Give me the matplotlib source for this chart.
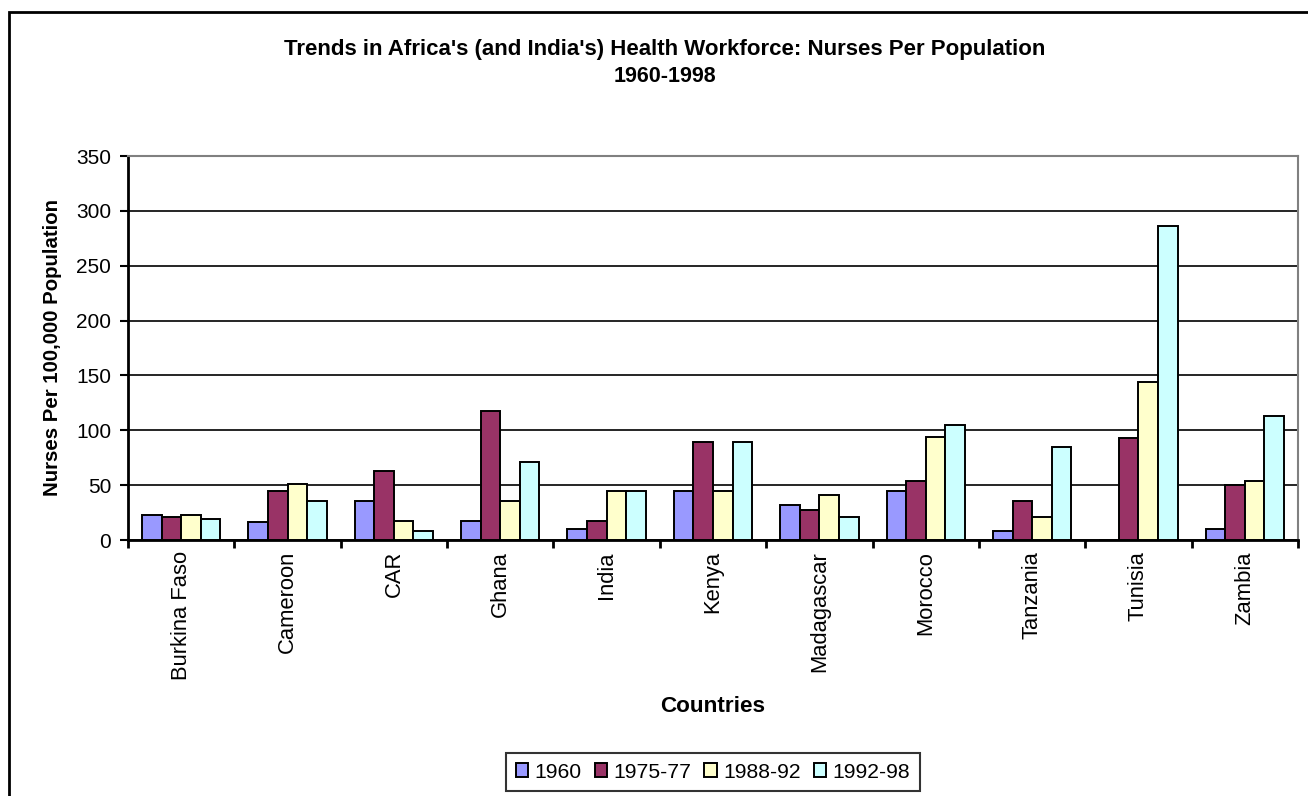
import matplotlib
matplotlib.use("Agg")
import matplotlib.pyplot as plt
import numpy as np
from matplotlib.patches import Rectangle

plt.rcParams['font.family'] = ['Liberation Sans', 'DejaVu Sans']

countries = ["Burkina Faso", "Cameroon", "CAR", "Ghana", "India", "Kenya",
             "Madagascar", "Morocco", "Tanzania", "Tunisia", "Zambia"]
series_names = ["1960", "1975-77", "1988-92", "1992-98"]
v1960 = [23, 16, 36, 17, 10, 45, 32, 45, 8, 0, 10]
v1975 = [21, 45, 63, 118, 17, 89, 27, 54, 36, 93, 50]
v1988 = [23, 51, 17, 36, 45, 45, 41, 94, 21, 144, 54]
v1992 = [19, 36, 8, 71, 45, 89, 21, 105, 85, 286, 113]
yticks = [0, 50, 100, 150, 200, 250, 300, 350]

colors = ["#9999FF", "#993366", "#FFFFCC", "#CCFFFF"]

fig = plt.figure(figsize=(13.08, 7.96), dpi=100)
ax = fig.add_axes([128/1308, 1-540/796, 1170/1308, 384/796])

x = np.arange(len(countries))
bw = 0.184
series = [v1960, v1975, v1988, v1992]
for i, (vals, c, name) in enumerate(zip(series, colors, series_names)):
    ax.bar(x + (i - 1.5) * bw, vals, width=bw, color=c, edgecolor='black',
           linewidth=1.4, label=name, zorder=3)

ax.set_xlim(-0.5, len(countries) - 0.5)
ax.set_ylim(0, 350)
ax.set_yticks(yticks)
ax.set_yticklabels([str(t) for t in yticks], fontsize=15)
ax.yaxis.grid(True, color='black', linewidth=1.2, zorder=0)
ax.set_axisbelow(True)

ax.set_xticks(x)
ax.set_xticklabels(countries, rotation=90, fontsize=15.8)
ax.tick_params(axis='x', which='major', length=0, pad=8)
ax.set_xticks(np.arange(-0.5, len(countries), 1), minor=True)
ax.tick_params(axis='x', which='minor', length=6, width=2, direction='out')
ax.tick_params(axis='y', length=6, width=1.5, direction='out', pad=6)

for s in ['left', 'bottom']:
    ax.spines[s].set_linewidth(2)
    ax.spines[s].set_color('black')
for s in ['top', 'right']:
    ax.spines[s].set_linewidth(1.5)
    ax.spines[s].set_color('#808080')

ax.set_ylabel("Nurses Per 100,000 Population", fontsize=14.7, fontweight='bold', labelpad=10)
fig.text(713/1308, 1-707/796, "Countries", ha='center', va='center',
         fontsize=16.2, fontweight='bold')

fig.text(665/1308, 1-50/796, "Trends in Africa's (and India's) Health Workforce: Nurses Per Population",
         ha='center', va='center', fontsize=16, fontweight='bold')
fig.text(665/1308, 1-77/796, "1960-1998", ha='center', va='center', fontsize=15.5, fontweight='bold')

leg = fig.legend(loc='center', bbox_to_anchor=(713/1308, 1-772/796), ncol=4, fontsize=15.2,
                 frameon=True, fancybox=False, edgecolor='black', handlelength=0.6,
                 handleheight=0.6, handletextpad=0.3, columnspacing=0.6, borderpad=0.45)
leg.get_frame().set_linewidth(1.5)

fig.patches.append(Rectangle((9/1308, -0.1), 1.2, 1 - 12/796 + 0.1, transform=fig.transFigure,
                             fill=False, edgecolor='black', linewidth=2))

fig.savefig("out.png", dpi=100)
